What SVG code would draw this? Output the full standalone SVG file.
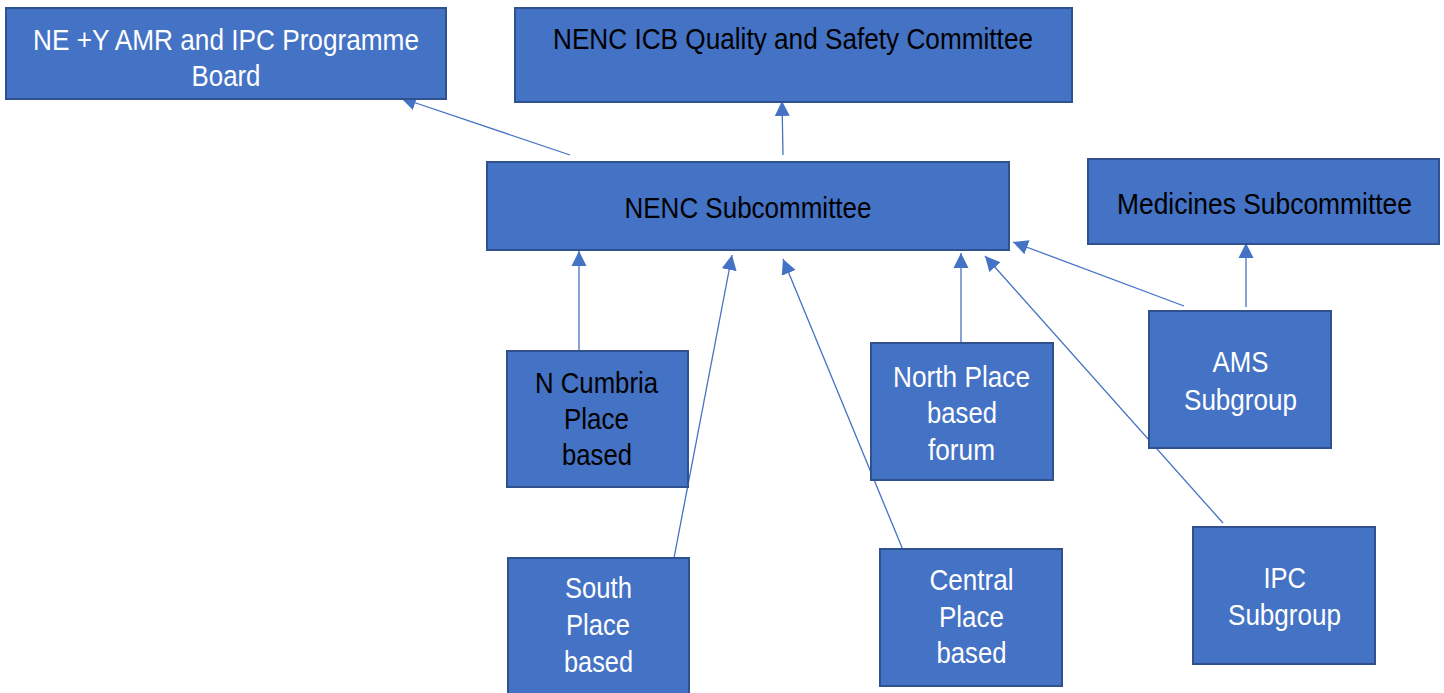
<svg xmlns="http://www.w3.org/2000/svg" width="1444" height="693" viewBox="0 0 1444 693">
<defs>
<style>
.box{fill:#4472C4;stroke:#2F528F;stroke-width:2}
.t{font-family:"Liberation Sans",Arial,sans-serif;font-size:29px}
.w{fill:#FFFFFF}
.k{fill:#000000}
.c{stroke:#4472C4;stroke-width:1.3;fill:none;marker-end:url(#ah)}
</style>
<marker id="ah" markerUnits="userSpaceOnUse" markerWidth="16" markerHeight="16" viewBox="0 0 16 16" refX="15" refY="8" orient="auto">
<path d="M0,0.5 L15,8 L0,15.5 Z" fill="#4472C4"/>
</marker>
</defs>
<rect width="1444" height="693" fill="#FFFFFF"/>
<g id="connectors">
<line class="c" x1="570" y1="155" x2="401" y2="98"/>
<line class="c" x1="783" y1="155" x2="782" y2="101"/>
<line class="c" x1="579" y1="351" x2="579" y2="251"/>
<line class="c" x1="674" y1="558" x2="732" y2="255"/>
<line class="c" x1="903" y1="550" x2="783" y2="259"/>
<line class="c" x1="961" y1="343" x2="961" y2="253"/>
<line class="c" x1="1223" y1="523" x2="985" y2="256"/>
<line class="c" x1="1184" y1="306" x2="1013" y2="242"/>
<line class="c" x1="1246" y1="307" x2="1246" y2="243"/>
</g>
<g id="ne-amr-board">
<rect class="box" x="6" y="8" width="440" height="91"/>
<text class="t w" x="33" y="50" textLength="386" lengthAdjust="spacingAndGlyphs">NE +Y AMR and IPC Programme</text>
<text class="t w" x="191.5" y="86" textLength="69" lengthAdjust="spacingAndGlyphs">Board</text>
</g>
<g id="icb-quality">
<rect class="box" x="515" y="8" width="557" height="94"/>
<text class="t k" x="553" y="48.5" textLength="480" lengthAdjust="spacingAndGlyphs">NENC ICB Quality and Safety Committee</text>
</g>
<g id="nenc-sub">
<rect class="box" x="487" y="162" width="522" height="88"/>
<text class="t k" x="624.5" y="218" textLength="247" lengthAdjust="spacingAndGlyphs">NENC Subcommittee</text>
</g>
<g id="medicines-sub">
<rect class="box" x="1088" y="159" width="351" height="85"/>
<text class="t k" x="1117" y="213.5" textLength="295" lengthAdjust="spacingAndGlyphs">Medicines Subcommittee</text>
</g>
<g id="n-cumbria">
<rect class="box" x="507" y="351" width="181" height="136"/>
<text class="t k" x="535" y="393" textLength="123" lengthAdjust="spacingAndGlyphs">N Cumbria</text>
<text class="t k" x="564" y="429" textLength="65" lengthAdjust="spacingAndGlyphs">Place</text>
<text class="t k" x="562" y="465" textLength="70" lengthAdjust="spacingAndGlyphs">based</text>
</g>
<g id="north-place">
<rect class="box" x="871" y="343" width="182" height="137"/>
<text class="t w" x="893" y="387" textLength="137" lengthAdjust="spacingAndGlyphs">North Place</text>
<text class="t w" x="927" y="423" textLength="70" lengthAdjust="spacingAndGlyphs">based</text>
<text class="t w" x="928" y="460" textLength="67" lengthAdjust="spacingAndGlyphs">forum</text>
</g>
<g id="ams-subgroup">
<rect class="box" x="1149" y="311" width="182" height="137"/>
<text class="t w" x="1212.5" y="372" textLength="56" lengthAdjust="spacingAndGlyphs">AMS</text>
<text class="t w" x="1184" y="410" textLength="113" lengthAdjust="spacingAndGlyphs">Subgroup</text>
</g>
<g id="south-place">
<rect class="box" x="508" y="558" width="181" height="140"/>
<text class="t w" x="565" y="598" textLength="67" lengthAdjust="spacingAndGlyphs">South</text>
<text class="t w" x="566" y="635" textLength="64" lengthAdjust="spacingAndGlyphs">Place</text>
<text class="t w" x="564" y="672" textLength="69" lengthAdjust="spacingAndGlyphs">based</text>
</g>
<g id="central-place">
<rect class="box" x="880" y="549" width="182" height="137"/>
<text class="t w" x="929.5" y="590" textLength="84" lengthAdjust="spacingAndGlyphs">Central</text>
<text class="t w" x="939" y="627" textLength="65" lengthAdjust="spacingAndGlyphs">Place</text>
<text class="t w" x="936.5" y="663" textLength="70" lengthAdjust="spacingAndGlyphs">based</text>
</g>
<g id="ipc-subgroup">
<rect class="box" x="1193" y="527" width="182" height="137"/>
<text class="t w" x="1263.5" y="588" textLength="42.5" lengthAdjust="spacingAndGlyphs">IPC</text>
<text class="t w" x="1228" y="625" textLength="113" lengthAdjust="spacingAndGlyphs">Subgroup</text>
</g>
</svg>
